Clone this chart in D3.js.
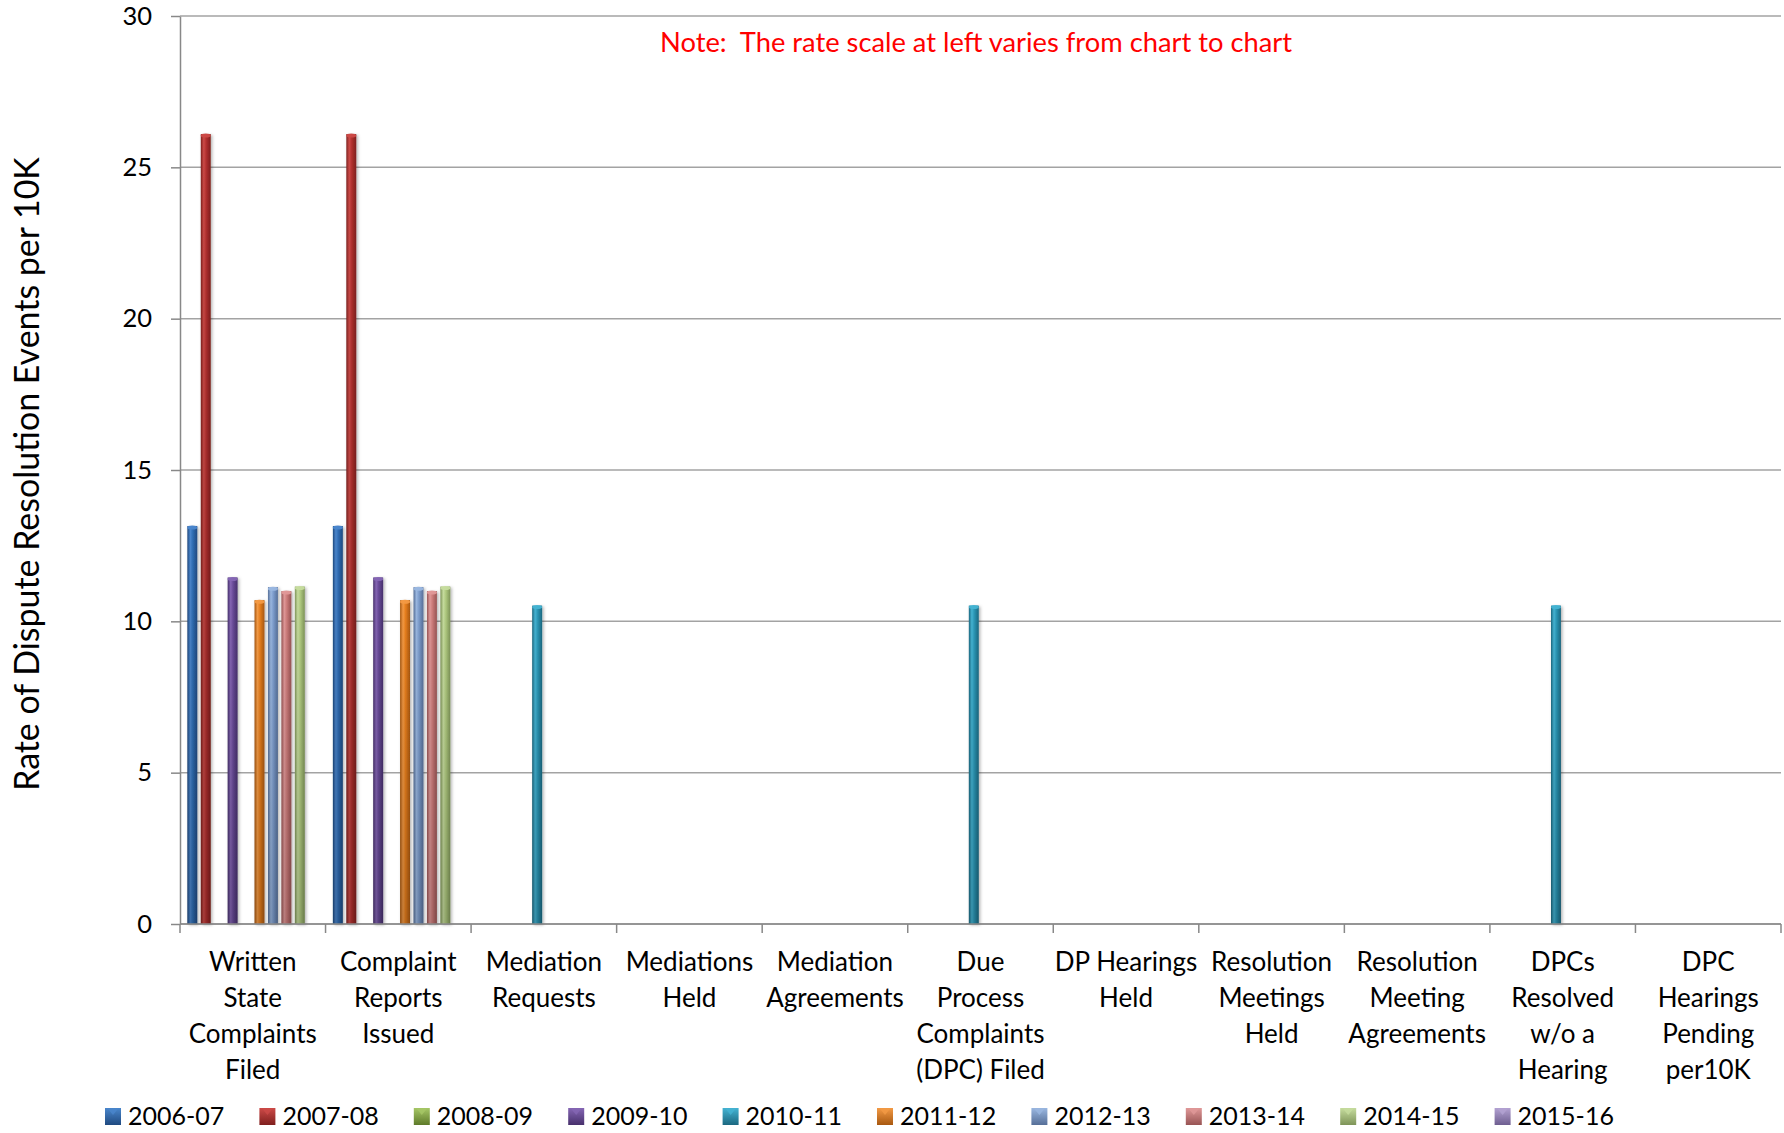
<!DOCTYPE html>
<html>
<head>
<meta charset="utf-8">
<script src="https://cdn.jsdelivr.net/npm/d3@7/dist/d3.min.js"></script>
<style>
  html, body { margin: 0; padding: 0; background: #fff; }
  svg { display: block; }
  text { font-family: Lato, "Noto Sans", sans-serif; fill: #000; }
</style>
</head>
<body>
<svg id="chart" width="1784" height="1133"></svg>
<script>
// ---------------- DATA ----------------
const categories = [
  "Written State Complaints Filed",
  "Complaint Reports Issued",
  "Mediation Requests",
  "Mediations Held",
  "Mediation Agreements",
  "Due Process Complaints (DPC) Filed",
  "DP Hearings Held",
  "Resolution Meetings Held",
  "Resolution Meeting Agreements",
  "DPCs Resolved w/o a Hearing",
  "DPC Hearings Pending per10K"
];
const categoryLines = [
  ["Written", "State", "Complaints", "Filed"],
  ["Complaint", "Reports", "Issued"],
  ["Mediation", "Requests"],
  ["Mediations", "Held"],
  ["Mediation", "Agreements"],
  ["Due", "Process", "Complaints", "(DPC) Filed"],
  ["DP Hearings", "Held"],
  ["Resolution", "Meetings", "Held"],
  ["Resolution", "Meeting", "Agreements"],
  ["DPCs", "Resolved", "w/o a", "Hearing"],
  ["DPC", "Hearings", "Pending", "per10K"]
];
const seriesNames = ["2006-07","2007-08","2008-09","2009-10","2010-11","2011-12","2012-13","2013-14","2014-15","2015-16"];
const s2006_07 = [13.15, 13.15, null, null, null, null, null, null, null, null, null];
const s2007_08 = [26.1, 26.1, null, null, null, null, null, null, null, null, null];
const s2008_09 = [null, null, null, null, null, null, null, null, null, null, null];
const s2009_10 = [11.45, 11.45, null, null, null, null, null, null, null, null, null];
const s2010_11 = [null, null, 10.52, null, null, 10.52, null, null, null, 10.52, null];
const s2011_12 = [10.7, 10.7, null, null, null, null, null, null, null, null, null];
const s2012_13 = [11.13, 11.13, null, null, null, null, null, null, null, null, null];
const s2013_14 = [11.0, 11.0, null, null, null, null, null, null, null, null, null];
const s2014_15 = [11.15, 11.15, null, null, null, null, null, null, null, null, null];
const s2015_16 = [null, null, null, null, null, null, null, null, null, null, null];
const seriesValues = [s2006_07, s2007_08, s2008_09, s2009_10, s2010_11, s2011_12, s2012_13, s2013_14, s2014_15, s2015_16];
const yTicks = [0, 5, 10, 15, 20, 25, 30];
const yTitle = "Rate of Dispute Resolution Events per 10K";
const noteText = "Note:  The rate scale at left varies from chart to chart";

// colours: [light, mid, dark]
const seriesColors = [
  ["#4a86cc", "#2f6cb3", "#1f4a80"],
  ["#cc4a47", "#b1302e", "#7f1f1e"],
  ["#a6c766", "#86a843", "#5e7a2a"],
  ["#8566b4", "#684a98", "#47306c"],
  ["#45b3d2", "#2b96b5", "#1b6880"],
  ["#f39a45", "#e67e1e", "#a85810"],
  ["#9ab7e0", "#7c9ccc", "#566f98"],
  ["#e09898", "#cc7b7a", "#985454"],
  ["#c6dc9e", "#afc97f", "#7e9458"],
  ["#b3a2d2", "#9a86be", "#6e5e90"]
];

// ---------------- LAYOUT ----------------
const svg = d3.select("#chart");
const plot = { left: 180, right: 1781, top: 16, bottom: 924 };

const y = d3.scaleLinear().domain([0, 30]).range([plot.bottom, plot.top]);
const x0 = d3.scaleBand().domain(categories).range([plot.left, plot.right]).padding(0);
const x1 = d3.scaleBand().domain(seriesNames).range([0, x0.bandwidth()]).paddingInner(0).paddingOuter(0.416);
const barW = x1.bandwidth() * 0.74;

const defs = svg.append("defs");
seriesColors.forEach((c, i) => {
  const g = defs.append("linearGradient").attr("id", "bar" + i).attr("x1", "0%").attr("x2", "100%").attr("y1", "0%").attr("y2", "0%");
  g.append("stop").attr("offset", "0%").attr("stop-color", c[2]);
  g.append("stop").attr("offset", "30%").attr("stop-color", c[0]);
  g.append("stop").attr("offset", "55%").attr("stop-color", c[1]);
  g.append("stop").attr("offset", "100%").attr("stop-color", c[2]);
  const v = defs.append("linearGradient").attr("id", "shade" + i).attr("x1", "0%").attr("x2", "0%").attr("y1", "0%").attr("y2", "100%");
  v.append("stop").attr("offset", "0%").attr("stop-color", "#000").attr("stop-opacity", 0);
  v.append("stop").attr("offset", "100%").attr("stop-color", "#000").attr("stop-opacity", 0.18);
  const lg = defs.append("linearGradient").attr("id", "leg" + i).attr("x1", "0%").attr("x2", "0%").attr("y1", "0%").attr("y2", "100%");
  lg.append("stop").attr("offset", "0%").attr("stop-color", c[0]);
  lg.append("stop").attr("offset", "100%").attr("stop-color", c[2]);
});
const f = defs.append("filter").attr("id", "shadow").attr("x", "-50%").attr("y", "-5%").attr("width", "200%").attr("height", "110%");
f.append("feDropShadow").attr("dx", 1.5).attr("dy", 1).attr("stdDeviation", 1.6).attr("flood-color", "#000").attr("flood-opacity", 0.3);

// gridlines
svg.append("g").selectAll("line").data(yTicks).join("line")
  .attr("x1", plot.left).attr("x2", plot.right)
  .attr("y1", d => y(d)).attr("y2", d => y(d))
  .attr("stroke", "#a3a3a3").attr("stroke-width", 1.5);

// y axis
const yAxis = svg.append("g").attr("transform", `translate(${plot.left},0)`)
  .call(d3.axisLeft(y).tickValues(yTicks).tickSize(9).tickPadding(19).tickSizeOuter(0));
yAxis.select(".domain").attr("stroke", "#888").attr("stroke-width", 1.5);
yAxis.selectAll(".tick line").attr("stroke", "#888").attr("stroke-width", 1.5);
yAxis.selectAll(".tick text").attr("font-family", "Lato, sans-serif").attr("font-size", 25.5).attr("fill", "#000");

// bars
const barsG = svg.append("g");
seriesValues.forEach((vals, si) => {
  const data = vals.map((v, ci) => ({ v, cat: categories[ci] })).filter(d => d.v != null && d.v > 0);
  const g = barsG.append("g");
  const bx = d => x0(d.cat) + x1(seriesNames[si]) + (x1.bandwidth() - barW) / 2;
  g.selectAll("rect.b").data(data).join("rect").attr("class", "b")
    .attr("x", bx).attr("width", barW)
    .attr("y", d => y(d.v)).attr("height", d => y(0) - y(d.v))
    .attr("fill", `url(#bar${si})`).attr("filter", "url(#shadow)");
  g.selectAll("rect.s").data(data).join("rect").attr("class", "s")
    .attr("x", bx).attr("width", barW)
    .attr("y", d => y(d.v)).attr("height", d => y(0) - y(d.v))
    .attr("fill", `url(#shade${si})`);
  g.selectAll("ellipse").data(data).join("ellipse")
    .attr("cx", d => bx(d) + barW / 2).attr("cy", d => y(d.v) + 1.5)
    .attr("rx", barW / 2).attr("ry", 2)
    .attr("fill", seriesColors[si][0]).attr("opacity", 0.95);
});

// x axis
svg.append("line").attr("x1", plot.left).attr("x2", plot.right).attr("y1", y(0)).attr("y2", y(0))
  .attr("stroke", "#888").attr("stroke-width", 1.5);
const bounds = categories.map(c => x0(c)).concat([plot.right]);
svg.append("g").selectAll("line").data(bounds).join("line")
  .attr("x1", d => d).attr("x2", d => d).attr("y1", y(0)).attr("y2", y(0) + 9)
  .attr("stroke", "#888").attr("stroke-width", 1.5);

// category labels
const catG = svg.append("g");
categoryLines.forEach((lines, ci) => {
  const cx = x0(categories[ci]) + x0.bandwidth() / 2;
  const t = catG.append("text").attr("text-anchor", "middle").attr("font-size", 26);
  lines.forEach((ln, li) => {
    t.append("tspan").attr("x", cx).attr("y", 971 + li * 36).text(ln);
  });
});

// y title
const yt = svg.append("text").attr("text-anchor", "middle")
  .attr("transform", "translate(39,474) rotate(-90)")
  .attr("font-size", 32).text(yTitle);
{
  const len = yt.node().getComputedTextLength();
  yt.attr("font-size", 32 * 634 / len);
}

// note
const nt = svg.append("text").attr("text-anchor", "middle").attr("x", 976).attr("y", 52)
  .attr("font-size", 25).style("fill", "#ff0000").style("white-space", "pre")
  .attr("xml:space", "preserve").text(noteText);
{
  const len = nt.node().getComputedTextLength();
  nt.attr("font-size", 25 * 632 / len);
}

// legend
const legG = svg.append("g");
seriesNames.forEach((name, i) => {
  const lx = 105 + i * 154.4;
  legG.append("rect").attr("x", lx).attr("y", 1108).attr("width", 16).attr("height", 17)
    .attr("fill", `url(#leg${i})`);
  legG.append("path").attr("d", `M${lx + 3},${1109} L${lx + 13},${1109} L${lx + 8},${1115} Z`)
    .attr("fill", seriesColors[i][0]).attr("opacity", 0.8);
  legG.append("text").attr("x", lx + 23).attr("y", 1125).attr("font-size", 25).text(name);
});
</script>
</body>
</html>
